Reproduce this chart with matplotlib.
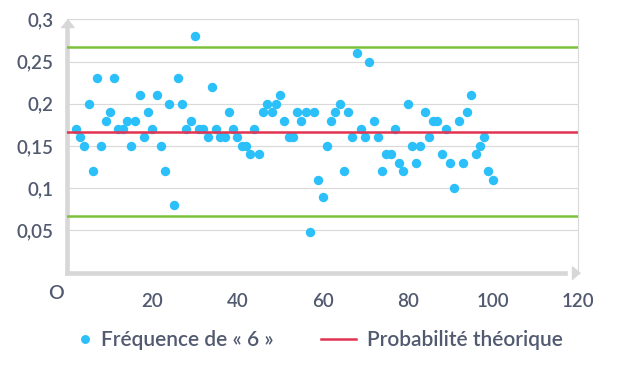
import matplotlib
matplotlib.use('Agg')
import matplotlib.pyplot as plt
from matplotlib.lines import Line2D

# ---- data ----
experiments = list(range(2, 101))
freq = [0.17, 0.16, 0.15, 0.20, 0.12, 0.23, 0.15, 0.18, 0.19, 0.23,
        0.17, 0.17, 0.18, 0.15, 0.18, 0.21, 0.16, 0.19, 0.17, 0.21,
        0.15, 0.12, 0.20, 0.08, 0.23, 0.20, 0.17, 0.18, 0.28, 0.17,
        0.17, 0.16, 0.22, 0.17, 0.16, 0.16, 0.19, 0.17, 0.16, 0.15,
        0.15, 0.14, 0.17, 0.14, 0.19, 0.20, 0.19, 0.20, 0.21, 0.18,
        0.16, 0.16, 0.19, 0.18, 0.19, 0.048, 0.19, 0.11, 0.09, 0.15,
        0.18, 0.19, 0.20, 0.12, 0.19, 0.16, 0.26, 0.17, 0.16, 0.25,
        0.18, 0.16, 0.12, 0.14, 0.14, 0.17, 0.13, 0.12, 0.20, 0.15,
        0.13, 0.15, 0.19, 0.16, 0.18, 0.18, 0.14, 0.17, 0.13, 0.10,
        0.18, 0.13, 0.19, 0.21, 0.14, 0.15, 0.16, 0.12, 0.11]
p_theo = 1 / 6
margin = 0.1
x_ticks = [20, 40, 60, 80, 100, 120]
x_minor = [40, 60, 80, 100]
y_ticks = [0.05, 0.1, 0.15, 0.2, 0.25, 0.3]
y_labels = ['0,05', '0,1', '0,15', '0,2', '0,25', '0,3']
label_points = 'Fréquence de « 6 »'
label_line = 'Probabilité théorique'

BLUE = '#2bc0fa'
RED = '#e23350'
GREEN = '#7cc13a'
GRID = '#d9d9d9'
AXIS = '#d7d7d7'
TEXT = '#525a70'

plt.rcParams['font.family'] = ['Lato', 'DejaVu Sans']
plt.rcParams['font.weight'] = 'semibold'

W, H = 620, 370
fig = plt.figure(figsize=(W / 100, H / 100), dpi=100)
x0, x1 = 67.3, 577.8
y0, y1 = 272.5, 19.3
ax = fig.add_axes([x0 / W, 1 - y0 / H, (x1 - x0) / W, (y0 - y1) / H])
ax.set_xlim(0, 120)
ax.set_ylim(0, 0.3)

# grid
ax.set_yticks(y_ticks)
ax.set_yticklabels(y_labels)
ax.grid(axis='y', color=GRID, lw=0.8, zorder=0)
ax.set_axisbelow(True)

# spines
for s in ['top', 'right']:
    ax.spines[s].set_color(GRID)
    ax.spines[s].set_linewidth(0.8)
for s in ['left', 'bottom']:
    ax.spines[s].set_color(AXIS)
    ax.spines[s].set_linewidth(3.3)
    ax.spines[s].set_capstyle('projecting')
ax.spines['left'].set_bounds(0, 0.29)
ax.spines['bottom'].set_bounds(0, 117)

# arrow heads
up = [(-6.5, -8), (6.5, -8), (0, 0)]
right = [(-8, -6.5), (-8, 6.5), (0, 0)]
ax.plot([0], [0.3], marker=up, markersize=8 * 2 * 0.72, color=AXIS,
        clip_on=False, zorder=5, ls='none')
ax.plot([120.4], [0], marker=right, markersize=8 * 2 * 0.72, color=AXIS,
        clip_on=False, zorder=5, ls='none')

# ticks
ax.set_xticks(x_ticks)
ax.set_xticklabels([str(v) for v in x_ticks])
ax.set_xticks(x_minor, minor=True)
ax.tick_params(axis='x', which='major', length=0, pad=15, labelsize=13.5, labelcolor=TEXT)
ax.tick_params(axis='x', which='minor', length=10, width=0.8, direction='inout', color=GRID)
ax.tick_params(axis='y', length=0, pad=10, labelsize=13.5, labelcolor=TEXT)
ax.text(56 / W, 1 - 293.5 / H, 'O', transform=fig.transFigure, ha='center', va='center',
        fontsize=14, color=TEXT)

# data
ax.scatter(experiments, freq, s=46, color=BLUE, zorder=2, linewidths=0, label=label_points)
ax.axhline(p_theo, color=RED, lw=1.8, zorder=3, label=label_line)
ax.axhline(p_theo + margin, color=GREEN, lw=1.8, zorder=3)
ax.axhline(p_theo - margin, color=GREEN, lw=1.8, zorder=3)

# legend (two parts to match spacing)
h1 = Line2D([], [], marker='o', ls='none', color=BLUE, markersize=5.4)
h2 = Line2D([], [], color=RED, lw=1.8)
ly = 1 - 340 / H
fs_leg = 15
leg1 = fig.legend([h1], [label_points], loc='center left', bbox_to_anchor=(79.5 / W, ly),
                  frameon=False, fontsize=fs_leg, handlelength=0.55, handletextpad=0.5,
                  borderpad=0, borderaxespad=0, labelcolor=TEXT)
leg2 = fig.legend([h2], [label_line], loc='center left', bbox_to_anchor=(321 / W, ly),
                  frameon=False, fontsize=fs_leg, handlelength=1.7, handletextpad=0.5,
                  borderpad=0, borderaxespad=0, labelcolor=TEXT)

fig.savefig('out.png', dpi=100)
